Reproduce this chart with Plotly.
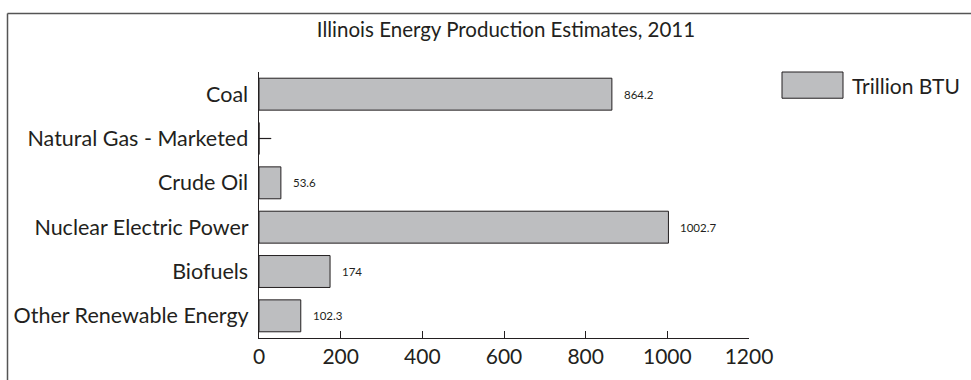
import plotly.graph_objects as go

categories = ["Coal", "Natural Gas - Marketed", "Crude Oil", "Nuclear Electric Power", "Biofuels", "Other Renewable Energy"]
values = [864.2, None, 53.6, 1002.7, 174, 102.3]
value_labels = ["864.2", "", "53.6", "1002.7", "174", "102.3"]
x_ticks = [0, 200, 400, 600, 800, 1000, 1200]
series_name = "Trillion BTU"
title = "Illinois Energy Production Estimates, 2011"

FONT = "Lato, 'Noto Sans', sans-serif"
BAR_FILL = "#bdbec0"
LINE = "#231f20"

fig = go.Figure()
fig.add_trace(go.Bar(
    y=categories, x=[v if v is not None else 0 for v in values], orientation="h",
    marker=dict(color=BAR_FILL, line=dict(color=LINE, width=1)),
    name=series_name, showlegend=False, width=0.72,
))
# short marker for the category without a value
fig.add_trace(go.Scatter(
    y=[categories[1], categories[1]], x=[0, 30], mode="lines",
    line=dict(color=LINE, width=1.2), showlegend=False, hoverinfo="skip",
))

for c, v, t in zip(categories, values, value_labels):
    if v is None:
        continue
    fig.add_annotation(x=v, y=c, text=t, showarrow=False, xanchor="left",
                       xshift=10, font=dict(family=FONT, size=11.5, color=LINE))

# manual legend
fig.add_shape(type="rect", xref="paper", yref="paper",
              x0=(782 - 259) / 490, x1=(843 - 259) / 490,
              y0=(356 - 100) / 284, y1=(356 - 72) / 284,
              fillcolor=BAR_FILL, line=dict(color=LINE, width=1))
fig.add_annotation(xref="paper", yref="paper", x=(850 - 259) / 490, y=(356 - 86) / 284,
                   text=series_name, showarrow=False, xanchor="left", yanchor="middle",
                   font=dict(family=FONT, size=21, color=LINE))

# outer frame (only top and left edges visible)
fig.add_shape(type="line", xref="paper", yref="paper",
              x0=(7.5 - 259) / 490, x1=(980 - 259) / 490,
              y0=(356 - 9.5) / 284, y1=(356 - 9.5) / 284,
              line=dict(color="#555", width=1.5))
fig.add_shape(type="line", xref="paper", yref="paper",
              x0=(7.5 - 259) / 490, x1=(7.5 - 259) / 490,
              y0=(356 - 9.5) / 284, y1=(356 - 420) / 284,
              line=dict(color="#555", width=1.5))

fig.update_layout(
    width=971, height=380,
    margin=dict(l=259, r=222, t=72, b=24),
    paper_bgcolor="white", plot_bgcolor="white",
    title=dict(text=title, x=506 / 971, xanchor="center", y=1 - 30 / 380, yanchor="middle",
               font=dict(family=FONT, size=20.5, color=LINE)),
    font=dict(family=FONT, color=LINE),
    bargap=0.28,
)
fig.update_xaxes(range=[0, 1200], tickvals=x_ticks, ticks="inside", ticklen=7,
                 tickcolor=LINE, showline=True, linecolor=LINE, linewidth=1,
                 showgrid=False, zeroline=False, tickfont=dict(family=FONT, size=21, color=LINE))
fig.update_yaxes(categoryorder="array", categoryarray=categories, autorange="reversed",
                 showline=True, linecolor=LINE, linewidth=1, showgrid=False, ticks="",
                 ticksuffix=" ", tickfont=dict(family=FONT, size=21.5, color=LINE))

fig.write_html("out.html")
